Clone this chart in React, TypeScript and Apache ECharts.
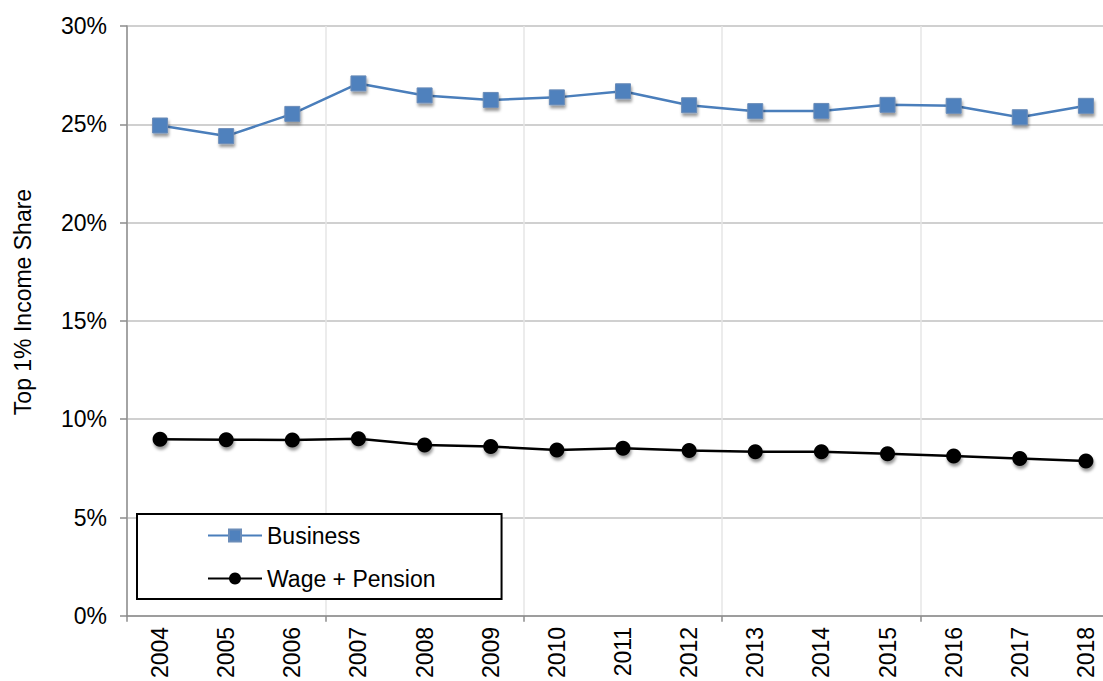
import { useEffect, useRef } from "react";
import * as echarts from "echarts";

const years = [
  "2004", "2005", "2006", "2007", "2008", "2009", "2010", "2011",
  "2012", "2013", "2014", "2015", "2016", "2017", "2018",
];

// top 1% income share, in %
const business = [
  24.94, 24.4, 25.53, 27.08, 26.47, 26.24, 26.37, 26.68,
  25.97, 25.67, 25.68, 25.99, 25.94, 25.36, 25.94,
];
const wagePension = [
  8.98, 8.96, 8.94, 9.01, 8.69, 8.61, 8.43, 8.52,
  8.41, 8.34, 8.34, 8.24, 8.13, 8.0, 7.88,
];

const yTitle = "Top 1% Income Share";

const FONT = "'Liberation Sans', Arial, sans-serif";
const everyThird = (i: number) => i % 3 === 0;

export default function App() {
  const containerRef = useRef<HTMLDivElement | null>(null);

  useEffect(() => {
    if (!containerRef.current) return;
    const chart = echarts.init(containerRef.current, undefined, { renderer: "svg" });

    const markerShadow = {
      shadowBlur: 3,
      shadowOffsetX: 1,
      shadowOffsetY: 3,
      shadowColor: "rgba(0,0,0,0.4)",
    };

    const option: echarts.EChartsOption = {
      animation: false,
      backgroundColor: "#fff",
      textStyle: { fontFamily: FONT },
      // plot runs past the right edge of the window, as in the source
      grid: { left: 127, right: 0, top: 26, bottom: 65 },
      // axis title sits a bit above the plot's middle in the source
      graphic: [
        {
          type: "text",
          x: 23,
          y: 302,
          rotation: Math.PI / 2,
          style: {
            text: yTitle,
            fill: "#000",
            font: `23px ${FONT}`,
            align: "center",
            verticalAlign: "middle",
          },
        },
      ],
      xAxis: {
        type: "category",
        data: years,
        boundaryGap: true,
        axisLine: { lineStyle: { color: "#8c8c8c", width: 1.5 } },
        axisTick: { show: true, interval: everyThird, length: 6, lineStyle: { color: "#8c8c8c", width: 1.5 } },
        axisLabel: {
          rotate: 90,
          margin: 11,
          color: "#000",
          fontSize: 23,
          fontFamily: FONT,
          interval: 0,
        },
        splitLine: { show: true, interval: everyThird, lineStyle: { color: "#e6e6e6", width: 1.5 } },
      },
      yAxis: {
        type: "value",
        min: 0,
        max: 30,
        interval: 5,
        axisLine: { show: true, lineStyle: { color: "#8c8c8c", width: 1.5 } },
        axisTick: { show: true, length: 7, lineStyle: { color: "#8c8c8c", width: 1.5 } },
        axisLabel: {
          margin: 20,
          color: "#000",
          fontSize: 23,
          fontFamily: FONT,
          formatter: (v: number) => `${v}%`,
        },
        splitLine: { lineStyle: { color: "#c0c0c0", width: 1.5 } },
      },
      legend: {
        orient: "vertical",
        left: 137,
        top: 514,
        padding: [10, 66, 9, 70],
        itemGap: 20,
        itemWidth: 54,
        itemHeight: 15,
        backgroundColor: "#fff",
        borderColor: "#000",
        borderWidth: 2,
        borderRadius: 0,
        textStyle: { color: "#000", fontSize: 23, fontFamily: FONT, lineHeight: 23 },
        itemStyle: { shadowBlur: 0, shadowOffsetX: 0, shadowOffsetY: 0 },
        data: ["Business", "Wage + Pension"],
      },
      series: [
        {
          name: "Business",
          type: "line",
          data: business,
          symbol: "rect",
          symbolSize: 15,
          lineStyle: { color: "#4a7ebb", width: 2.5 },
          itemStyle: { color: "#4f81bd", borderColor: "#6a8cb8", borderWidth: 1, ...markerShadow },
        },
        {
          name: "Wage + Pension",
          type: "line",
          data: wagePension,
          symbol: "circle",
          symbolSize: 15,
          lineStyle: { color: "#000", width: 2.5 },
          itemStyle: { color: "#000", borderColor: "#000", borderWidth: 0, ...markerShadow },
        },
      ],
    };

    chart.setOption(option);
    return () => chart.dispose();
  }, []);

  return (
    <div
      ref={containerRef}
      style={{ position: "fixed", left: 0, top: 0, width: 1119, height: 681 }}
    />
  );
}
